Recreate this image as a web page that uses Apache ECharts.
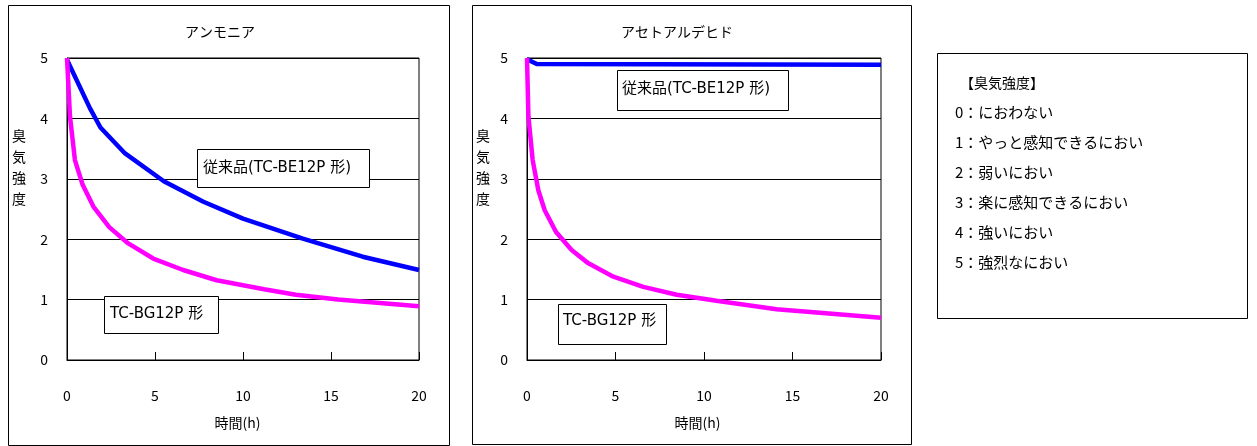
<!DOCTYPE html>
<html>
<head>
<meta charset="utf-8">
<script src="https://cdn.jsdelivr.net/npm/echarts@6/dist/echarts.min.js"></script>
<style>
html,body{margin:0;padding:0;background:#fff;}
#c{width:1257px;height:446px;}
</style>
</head>
<body>
<div id="c"></div>
<script>
// ---- data ----
const chartTitles = ['アンモニア', 'アセトアルデヒド'];
const seriesNames = ['従来品(TC-BE12P 形)', 'TC-BG12P 形'];
const xTicks = [0, 5, 10, 15, 20];
const yTicks = [0, 1, 2, 3, 4, 5];
const xAxisTitle = '時間(h)';
const yAxisTitle = '臭気強度';

// アンモニア
const ammoniaConvTime  = [0, 1.3, 1.9, 3.3, 5.5, 7.75, 10, 13.4, 16.8, 20];
const ammoniaConvValue = [4.97, 4.17, 3.85, 3.42, 2.96, 2.62, 2.34, 2.01, 1.71, 1.49];
const ammoniaNewTime   = [0, 0.17, 0.45, 0.89, 1.5, 2.4, 3.48, 4.9, 6.6, 8.5, 11.2, 13.0, 15.4, 20];
const ammoniaNewValue  = [5.0, 4.03, 3.31, 2.9, 2.54, 2.2, 1.93, 1.68, 1.49, 1.32, 1.17, 1.08, 1.0, 0.89];

// アセトアルデヒド
const acetConvTime  = [0, 0.55, 20];
const acetConvValue = [4.98, 4.9, 4.89];
const acetNewTime   = [0, 0.08, 0.32, 0.64, 1.0, 1.64, 2.52, 3.47, 4.88, 6.57, 8.46, 10.7, 14.1, 20];
const acetNewValue  = [5.0, 4.03, 3.31, 2.81, 2.48, 2.12, 1.82, 1.6, 1.38, 1.21, 1.08, 0.98, 0.84, 0.70];

const legendHeading = '【臭気強度】';
const legendLevels = [0, 1, 2, 3, 4, 5];
const legendTexts = ['におわない', 'やっと感知できるにおい', '弱いにおい', '楽に感知できるにおい', '強いにおい', '強烈なにおい'];

// ---- build ----
const FONT = '"Noto Sans CJK JP", "Noto Sans", sans-serif';
const BOXFONT = '"DejaVu Sans", "Noto Sans CJK JP", sans-serif';
const pairs = (xs, ys) => xs.map((x, i) => [x, ys[i]]);

const grids = [
  {left: 67, top: 58, width: 352, height: 302},
  {left: 527, top: 58, width: 354, height: 302}
];

function xAxisFor(i) {
  return {
    type: 'value', gridIndex: i, min: xTicks[0], max: xTicks[xTicks.length - 1], interval: 5,
    axisLine: {show: true, onZero: false, lineStyle: {color: '#000', width: 1}},
    axisTick: {show: true, inside: true, length: 8, lineStyle: {color: '#000'}},
    axisLabel: {margin: 29, color: '#000', fontSize: 14, fontFamily: FONT},
    splitLine: {show: false}
  };
}
function yAxisFor(i) {
  return {
    type: 'value', gridIndex: i, min: yTicks[0], max: yTicks[yTicks.length - 1], interval: 1,
    axisLine: {show: true, lineStyle: {color: '#000', width: 1}},
    axisTick: {show: false},
    axisLabel: {margin: 19, color: '#000', fontSize: 14, fontFamily: FONT},
    splitLine: {show: true, lineStyle: {color: '#000', width: 1}}
  };
}

function lineSeries(i, name, data, color) {
  return {
    type: 'line', name: name, xAxisIndex: i, yAxisIndex: i, data: data,
    showSymbol: false, symbol: 'none', smooth: false,
    lineStyle: {color: color, width: 4.5}, itemStyle: {color: color},
    animation: false, silent: true
  };
}

function txt(x, y, text, opts) {
  return {
    type: 'text', x: x, y: y, silent: true,
    style: Object.assign({text: text, fill: '#000', font: '14px ' + FONT, textVerticalAlign: 'middle'}, opts || {})
  };
}
function box(x, y, w, h) {
  return {type: 'rect', shape: {x: x, y: y, width: w, height: h}, silent: true,
    style: {fill: '#fff', stroke: '#000', lineWidth: 1}};
}

const graphics = [
  // outer frames
  {type: 'rect', shape: {x: 8.5, y: 5.5, width: 441, height: 440}, z: -10, silent: true, style: {fill: 'none', stroke: '#000', lineWidth: 1}},
  {type: 'rect', shape: {x: 472.5, y: 5.5, width: 439, height: 439}, z: -10, silent: true, style: {fill: 'none', stroke: '#000', lineWidth: 1}},
  {type: 'rect', shape: {x: 937.5, y: 53.5, width: 310, height: 265}, z: -10, silent: true, style: {fill: 'none', stroke: '#000', lineWidth: 1}},
  // titles
  txt(220, 32, chartTitles[0], {textAlign: 'center'}),
  txt(677, 32, chartTitles[1], {textAlign: 'center'}),
  // x-axis titles
  txt(237.5, 423, xAxisTitle, {textAlign: 'center'}),
  txt(697.5, 423, xAxisTitle, {textAlign: 'center'}),
  // y-axis titles (vertical)
  {type: 'text', x: 19, y: 125, silent: true, style: {text: yAxisTitle.split('').join('\n'), fill: '#000', font: '14px ' + FONT, textAlign: 'center', textVerticalAlign: 'top', lineHeight: 21}},
  {type: 'text', x: 483, y: 125, silent: true, style: {text: yAxisTitle.split('').join('\n'), fill: '#000', font: '14px ' + FONT, textAlign: 'center', textVerticalAlign: 'top', lineHeight: 21}},
  // annotation boxes chart 1
  box(197.5, 149.5, 172, 38), txt(203, 168, seriesNames[0], {font: '15px ' + BOXFONT}),
  box(104.5, 296.5, 114, 37), txt(110, 314, seriesNames[1], {font: '15px ' + BOXFONT}),
  // annotation boxes chart 2
  box(617.5, 70.5, 171, 40), txt(622, 89, seriesNames[0], {font: '15px ' + BOXFONT}),
  box(558.5, 304.5, 108, 40), txt(563, 321, seriesNames[1], {font: '15px ' + BOXFONT}),
  // legend
  txt(960, 83, legendHeading, {font: '14px ' + FONT})
];
legendLevels.forEach((lv, i) => {
  graphics.push(txt(955, 112 + i * 30, lv + '：' + legendTexts[i], {font: '15px ' + FONT}));
});
graphics.forEach(g => { if (g.z === undefined) g.z = 100; });

const option = {
  backgroundColor: '#fff',
  animation: false,
  textStyle: {fontFamily: FONT},
  grid: grids.map(g => Object.assign({show: true, borderColor: '#000', borderWidth: 1, backgroundColor: '#fff', containLabel: false}, g)),
  xAxis: [xAxisFor(0), xAxisFor(1)],
  yAxis: [yAxisFor(0), yAxisFor(1)],
  series: [
    lineSeries(0, seriesNames[0], pairs(ammoniaConvTime, ammoniaConvValue), '#0000FF'),
    lineSeries(0, seriesNames[1], pairs(ammoniaNewTime, ammoniaNewValue), '#FF00FF'),
    lineSeries(1, seriesNames[0], pairs(acetConvTime, acetConvValue), '#0000FF'),
    lineSeries(1, seriesNames[1], pairs(acetNewTime, acetNewValue), '#FF00FF')
  ],
  graphic: graphics
};

const chart = echarts.init(document.getElementById('c'), null, {renderer: 'canvas'});
chart.setOption(option);
</script>
</body>
</html>
